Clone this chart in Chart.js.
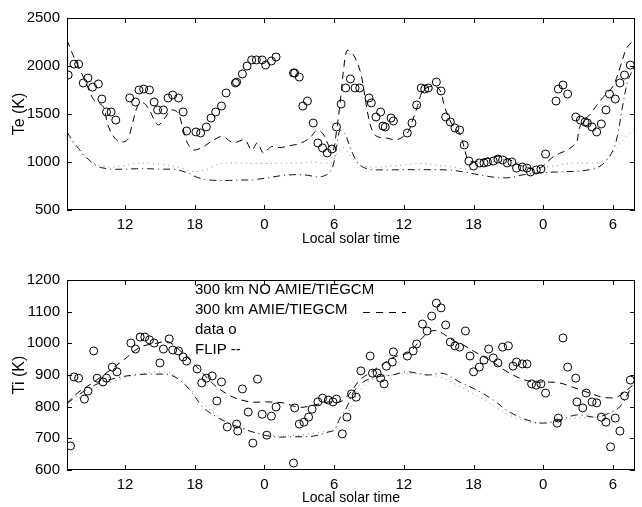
<!DOCTYPE html>
<html>
<head>
<meta charset="utf-8">
<script src="https://cdn.jsdelivr.net/npm/chart.js@4.4.0/dist/chart.umd.min.js"></script>
<style>
  body { margin: 0; background: #fff; }
  canvas { position: absolute; left: 0; }
  #teChart { top: 0; }
  #tiChart { top: 250px; }
</style>
</head>
<body>
<canvas id="teChart" width="642" height="250" style="width:642px;height:250px"></canvas>
<canvas id="tiChart" width="642" height="257" style="width:642px;height:257px"></canvas>
<script>
// hours run continuously from 7 to 56, labels are shown modulo 24
var xTicks = [12, 18, 24, 30, 36, 42, 48, 54];

// ---- Te panel ----
var teHours = [7.1,7.6,8.0,8.4,8.8,9.2,9.7,10.0,10.4,10.8,11.2,12.4,12.9,13.2,13.6,14.1,14.5,14.8,15.3,15.7,16.1,16.6,17.0,17.3,18.1,18.5,19.0,19.4,19.8,20.3,20.7,21.5,21.6,22.1,22.5,22.9,23.3,23.8,24.1,24.6,25.0,26.5,26.6,27.0,27.3,27.7,28.2,28.6,29.0,29.4,29.8,30.2,30.6,31.0,31.4,31.8,32.2,33.0,33.2,33.6,34.0,34.2,34.4,34.9,35.1,36.3,36.7,37.1,37.5,37.8,38.1,38.8,39.2,39.6,40.0,40.4,40.8,41.2,41.6,42.0,42.5,42.9,43.2,43.7,44.1,44.5,44.9,45.3,45.7,46.2,46.6,46.9,47.4,47.8,48.2,49.1,49.3,49.7,50.1,50.8,51.2,51.6,51.8,52.2,52.6,53.0,53.4,53.7,54.2,54.6,55.0,55.5];
var teData = [1906,2020,2020,1823,1875,1780,1813,1656,1521,1521,1437,1667,1625,1750,1760,1750,1625,1542,1542,1667,1698,1667,1521,1323,1313,1302,1365,1458,1521,1583,1719,1823,1833,1917,2000,2063,2063,2063,2010,2052,2094,1927,1927,1885,1583,1635,1406,1198,1146,1094,1135,1365,1604,1771,1865,1771,1771,1667,1615,1469,1521,1375,1365,1458,1427,1302,1406,1594,1771,1760,1771,1833,1740,1469,1417,1354,1333,1177,1010,958,990,990,1000,1010,1031,1021,990,1000,937,948,937,896,917,927,1083,1635,1760,1802,1708,1469,1437,1417,1406,1365,1313,1396,1542,1708,1656,1823,1906,2010];

var teAmieHours = [7.0,7.5,8.0,8.5,9.0,9.3,9.8,10.2,10.5,11.1,11.6,12.2,12.6,13.1,13.5,14.0,14.6,14.9,15.6,15.9,16.5,16.9,17.2,17.5,17.9,18.7,19.5,20.4,21.3,22.3,22.9,23.4,23.9,24.6,25.3,26.4,27.0,27.9,28.5,29.0,29.5,29.9,30.2,30.5,30.8,31.1,31.5,31.9,32.3,32.6,32.9,33.3,33.7,34.5,35.3,35.9,36.4,36.8,37.2,37.6,38.1,38.6,39.1,39.5,39.9,40.4,40.8,41.2,41.5,42.0,42.8,43.6,44.4,45.2,45.9,46.6,47.4,48.0,48.7,49.4,50.0,50.5,50.9,51.1,51.6,52.0,52.6,53.2,53.9,54.3,54.6,55.2,55.9];
var teAmie = [2270,2120,1990,1860,1720,1650,1610,1560,1390,1250,1210,1230,1385,1590,1620,1560,1420,1385,1490,1540,1520,1390,1250,1170,1125,1156,1220,1265,1200,1230,1125,1200,1095,1160,1150,1175,1190,1250,1330,1300,1180,1120,1320,1600,1950,2160,2140,2060,1920,1720,1500,1320,1265,1250,1230,1260,1320,1450,1590,1740,1780,1790,1750,1580,1450,1350,1300,1150,1030,1000,1030,1050,1060,1020,970,945,920,960,1040,1090,1120,1160,1210,1350,1450,1490,1590,1680,1770,1870,1980,2190,2280];

var teFlipHours = [7.0,7.5,8.0,8.5,9.0,9.5,10.0,11.0,12.0,13.0,14.0,15.0,16.0,16.8,17.5,18.2,19.0,20.0,21.0,22.0,23.0,24.0,25.0,26.0,27.0,27.7,28.5,29.0,29.5,29.9,30.2,30.5,30.9,31.3,31.7,32.1,32.6,33.2,34,35,36,37,38,39,40,41,42,43,44,45,46,47,48,49,50,51,52,52.8,53.4,54.0,54.4,54.8,55.3,55.9];
var teFlip = [1310,1220,1140,1070,1010,965,940,925,925,930,930,925,925,910,880,840,815,808,808,812,815,830,850,865,868,862,845,850,880,960,1150,1330,1300,1180,1060,980,940,920,918,918,920,920,920,920,915,900,878,855,838,836,860,880,890,895,900,905,920,950,1010,1120,1280,1560,1850,2000];

var teNoAmieHours = [7,8,9,10,11,12,13,14,15,16,17,18,19,20,21,22,23,24,25,26,27,28,29,29.8,30.3,30.8,31.5,32.5,34,35,36,37,38,39,40,41,42,43,44,45,46,47,48,49,50,51,52,53,54,55,55.9];
var teNoAmie = [1290,1120,1010,960,950,965,985,988,980,960,930,900,920,975,990,990,985,985,985,990,990,1000,990,1000,1100,1150,1050,960,950,960,968,985,980,965,950,930,920,960,1020,1020,990,960,950,960,980,990,990,1000,1100,1250,1350];

// ---- Ti panel ----
var tiHours = [7.3,7.6,8.0,8.5,8.8,9.3,9.6,10.1,10.4,10.9,11.3,12.5,12.9,13.3,13.7,14.1,14.5,15.0,15.3,15.8,16.1,16.6,17.0,17.3,18.2,18.6,19.0,19.5,19.9,20.3,20.8,21.6,21.7,22.1,22.6,23.0,23.4,23.8,24.2,24.6,25.0,26.5,26.6,27.0,27.4,27.8,28.1,28.6,29.0,29.5,29.9,30.2,30.7,31.1,31.5,31.9,32.3,33.1,33.3,33.7,34.0,34.3,34.5,35.0,35.1,36.3,36.8,37.1,37.6,38.0,38.4,38.8,39.2,39.6,40.0,40.4,40.8,41.3,41.7,42.0,42.5,42.9,43.3,43.7,44.1,44.5,45.0,45.4,45.7,46.2,46.6,47.0,47.4,47.8,48.2,49.2,49.3,49.7,50.1,50.8,50.9,51.4,51.7,52.2,52.6,53.0,53.4,53.8,54.2,54.6,55.0,55.5];
var tiData = [676,894,890,824,849,976,890,878,890,925,910,1001,982,1020,1020,1011,1001,938,982,1014,979,976,957,944,919,875,890,897,818,878,736,745,723,856,783,685,887,776,710,770,799,622,796,745,751,767,792,815,827,821,815,824,714,767,840,830,913,960,906,906,890,872,928,941,973,960,976,998,1061,1039,1086,1127,1112,1058,1004,992,988,1039,960,910,925,947,982,954,938,988,992,928,941,935,935,872,868,872,843,748,764,1017,925,890,815,796,843,815,812,767,751,673,764,723,834,884];

var tiAmieHours = [7.0,7.9,9.2,10.7,12.2,13.3,14.7,15.7,16.7,17.6,18.7,19.9,21.3,22.8,24.2,25.6,27.0,28.3,29.5,30.5,31.3,32.2,33.0,34.0,35.2,36.5,37.4,38.2,38.8,39.4,40.2,41.1,42.3,43.4,44.9,46.0,47.1,48.3,49.4,50.5,52.0,53.1,54.3,55.2,55.9];
var tiAmie = [810,843,875,915,957,988,1000,1005,978,947,905,862,830,815,815,812,798,805,815,815,840,884,905,930,957,972,1010,1036,1040,1030,1010,995,969,947,910,890,878,878,875,862,843,830,830,852,875];

var tiFlipHours = [7.0,8.3,9.8,11.2,12.7,14.7,15.9,16.7,17.6,18.7,19.9,21.3,23.0,24.7,26.5,28.2,29.5,30.0,30.5,31.1,31.6,32.5,33.7,35.0,36.3,38.0,39.4,40.8,42.3,43.7,45.1,46.6,48.0,49.4,50.9,52.6,53.7,54.6,55.6,55.9];
var tiFlip = [810,845,875,890,900,903,900,884,852,799,767,742,720,705,705,707,720,726,764,799,843,878,894,900,910,900,905,878,852,821,783,758,748,758,774,767,780,800,862,880];

var tiNoAmieHours = [7,9,11,13,14.6,16,17,18,19,20,21,22,23,24,25,26,27,28,29,30,31,32,33,34,35,36,37,38,39,40,41,42,43,44,45,46,47,48,49,50,51,52,53,54,55,55.9];
var tiNoAmie = [800,850,880,900,910,905,880,840,800,770,750,735,720,712,708,708,710,715,720,730,770,840,880,895,900,905,905,902,895,880,860,840,820,795,775,760,750,748,752,760,765,765,770,785,830,860];

function pts(xs, ys) {
    return xs.map(function(x, i) { return {x: x, y: ys[i]}; });
}

var FONT = "'Liberation Sans', Arial, Helvetica, sans-serif";

// box + inward ticks on all four sides
var framePlugin = {
    id: 'frame',
    afterDraw: function(chart) {
        var ctx = chart.ctx, a = chart.chartArea;
        var xs = chart.scales.x, ys = chart.scales.y;
        var len = 5;
        ctx.save();
        ctx.strokeStyle = '#000';
        ctx.lineWidth = 1;
        ctx.strokeRect(a.left + 0.5, a.top + 0.5, a.right - a.left - 1, a.bottom - a.top - 1);
        ctx.beginPath();
        xs.ticks.forEach(function(t) {
            var px = Math.round(xs.getPixelForValue(t.value)) + 0.5;
            ctx.moveTo(px, a.bottom); ctx.lineTo(px, a.bottom - len);
            ctx.moveTo(px, a.top); ctx.lineTo(px, a.top + len);
        });
        ys.ticks.forEach(function(t) {
            var py = Math.round(ys.getPixelForValue(t.value)) + 0.5;
            ctx.moveTo(a.left, py); ctx.lineTo(a.left + len, py);
            ctx.moveTo(a.right, py); ctx.lineTo(a.right - len, py);
        });
        ctx.stroke();
        ctx.restore();
    }
};

// text legend of the Ti panel
var legendPlugin = {
    id: 'textLegend',
    afterDraw: function(chart) {
        if (chart.canvas.id !== 'tiChart') return;
        var ctx = chart.ctx;
        ctx.save();
        ctx.fillStyle = '#000';
        ctx.font = '15px ' + FONT;
        ctx.textBaseline = 'middle';
        var lines = ['300 km NO AMIE/TIEGCM', '300 km AMIE/TIEGCM', 'data o', 'FLIP --'];
        lines.forEach(function(s, i) { ctx.fillText(s, 195, 40 + i * 20); });
        ctx.strokeStyle = '#000';
        ctx.lineWidth = 1;
        ctx.setLineDash([7, 6]);
        ctx.beginPath();
        ctx.moveTo(363, 62.5); ctx.lineTo(406, 62.5);
        ctx.stroke();
        ctx.restore();
    }
};

function lineSet(data, dash, color) {
    return {
        type: 'line',
        data: data,
        showLine: true,
        borderColor: color,
        borderWidth: 1,
        borderDash: dash,
        pointRadius: 0,
        tension: 0.35,
        fill: false
    };
}

function makeChart(id, cfg) {
    var h = document.getElementById(id).height;
    return new Chart(id, {
        type: 'scatter',
        data: {
            datasets: [
                {
                    data: cfg.points,
                    pointStyle: 'circle',
                    pointRadius: 4,
                    borderWidth: 1,
                    borderColor: '#000',
                    backgroundColor: 'rgba(0,0,0,0)'
                },
                lineSet(cfg.amie, [7, 5], '#000'),
                lineSet(cfg.flip, [7, 4, 1, 4], '#111'),
                lineSet(cfg.noAmie, [1, 4], '#888')
            ]
        },
        options: {
            responsive: false,
            animation: false,
            layout: { padding: { left: 0, right: 7, top: cfg.top, bottom: 0 } },
            plugins: { legend: { display: false }, tooltip: { enabled: false } },
            scales: {
                x: {
                    type: 'linear',
                    min: 7,
                    max: 55.9,
                    grid: { display: false, drawTicks: false },
                    border: { display: false },
                    afterBuildTicks: function(s) { s.ticks = xTicks.map(function(v) { return {value: v}; }); },
                    afterFit: function(s) { s.height = h - cfg.bottom; },
                    ticks: {
                        color: '#000',
                        padding: 6,
                        font: { family: FONT, size: 15 },
                        callback: function(v) { return String(v % 24); }
                    },
                    title: {
                        display: true,
                        text: 'Local solar time',
                        color: '#000',
                        font: { family: FONT, size: 14 },
                        padding: { top: 0, bottom: cfg.titlePad }
                    }
                },
                y: {
                    min: cfg.yMin,
                    max: cfg.yMax,
                    grid: { display: false, drawTicks: false },
                    border: { display: false },
                    afterFit: function(s) { s.width = 67; },
                    ticks: {
                        stepSize: cfg.yStep,
                        color: '#000',
                        padding: 7,
                        font: { family: FONT, size: 15 },
                        callback: function(v) { return String(v); }
                    },
                    title: {
                        display: true,
                        text: cfg.yTitle,
                        color: '#000',
                        font: { family: FONT, size: 16 },
                        padding: { top: 10, bottom: 0 }
                    }
                }
            }
        },
        plugins: [framePlugin, legendPlugin]
    });
}

var teChart = makeChart('teChart', {
    points: pts(teHours, teData),
    amie: pts(teAmieHours, teAmie),
    flip: pts(teFlipHours, teFlip),
    noAmie: pts(teNoAmieHours, teNoAmie),
    yMin: 500, yMax: 2500, yStep: 500,
    yTitle: 'Te (K)',
    top: 18, bottom: 210, titlePad: 2
});

var tiChart = makeChart('tiChart', {
    points: pts(tiHours, tiData),
    amie: pts(tiAmieHours, tiAmie),
    flip: pts(tiFlipHours, tiFlip),
    noAmie: pts(tiNoAmieHours, tiNoAmie),
    yMin: 600, yMax: 1200, yStep: 100,
    yTitle: 'Ti (K)',
    top: 30, bottom: 220, titlePad: 0
});
</script>
</body>
</html>
